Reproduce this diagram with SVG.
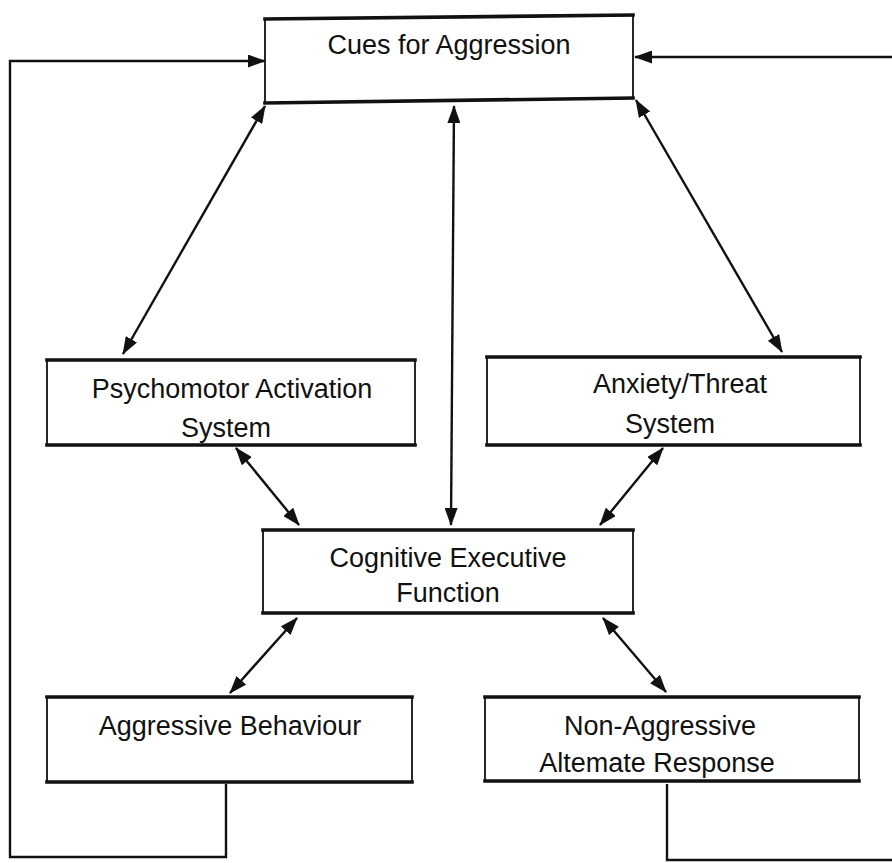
<svg xmlns="http://www.w3.org/2000/svg" width="892" height="863" viewBox="0 0 892 863">
<style>
.bg{fill:#fff}
.side{fill:#fff;stroke:#111;stroke-width:1.8}
.edge{fill:none;stroke:#111;stroke-width:3.6;stroke-linecap:square}
.lbl{font-family:"Liberation Sans",Arial,sans-serif;font-size:27px;fill:#111;text-anchor:middle}
.con{fill:none;stroke:#111;stroke-width:2.4}
</style>
<defs>
<marker id="ah" viewBox="0 0 18 13" refX="17" refY="6.5" markerWidth="18" markerHeight="13" markerUnits="userSpaceOnUse" orient="auto-start-reverse">
<path d="M0,0 L18,6.5 L0,13 z" fill="#111"/>
</marker>
</defs>
<rect class="bg" x="0" y="0" width="892" height="863"/>
<g id="connectors">
<line class="con" x1="265" y1="106" x2="123" y2="354" marker-start="url(#ah)" marker-end="url(#ah)"/>
<line class="con" x1="454" y1="106" x2="451" y2="525" marker-start="url(#ah)" marker-end="url(#ah)"/>
<line class="con" x1="636" y1="100" x2="782" y2="352" marker-start="url(#ah)" marker-end="url(#ah)"/>
<line class="con" x1="236" y1="448" x2="299" y2="525" marker-start="url(#ah)" marker-end="url(#ah)"/>
<line class="con" x1="663" y1="448" x2="600" y2="525" marker-start="url(#ah)" marker-end="url(#ah)"/>
<line class="con" x1="297" y1="618" x2="230" y2="693" marker-start="url(#ah)" marker-end="url(#ah)"/>
<line class="con" x1="603" y1="618" x2="666" y2="692" marker-start="url(#ah)" marker-end="url(#ah)"/>
<path class="con" d="M226,784 V857 H10 V61 H265" marker-end="url(#ah)"/>
<path class="con" d="M667,784 V860 H900 V57 H635" marker-end="url(#ah)"/>
</g>
<g id="cues">
<path class="side" d="M265,19 L633,15 L633,98 L265,103 Z"/>
<path class="edge" d="M265,19 L633,15 M265,103 L633,98"/>
<text class="lbl" x="449" y="54">Cues for Aggression</text>
</g>
<g id="psychomotor">
<rect class="side" x="47" y="360" width="368" height="85"/>
<path class="edge" d="M47,360 H415 M47,445 H415"/>
<text class="lbl" x="232" y="398">Psychomotor  Activation</text>
<text class="lbl" x="226" y="437">System</text>
</g>
<g id="anxiety">
<rect class="side" x="487" y="357" width="373" height="88"/>
<path class="edge" d="M487,357 H860 M487,445 H860"/>
<text class="lbl" x="680" y="393">Anxiety/Threat</text>
<text class="lbl" x="670" y="433">System</text>
</g>
<g id="cognitive">
<rect class="side" x="263" y="530" width="370" height="83"/>
<path class="edge" d="M263,530 H633 M263,613 H633"/>
<text class="lbl" x="448" y="567">Cognitive Executive</text>
<text class="lbl" x="448" y="602">Function</text>
</g>
<g id="aggressive">
<rect class="side" x="47" y="697" width="365" height="85"/>
<path class="edge" d="M47,697 H412 M47,782 H412"/>
<text class="lbl" x="230" y="735">Aggressive Behaviour</text>
</g>
<g id="nonaggressive">
<rect class="side" x="485" y="697" width="374" height="84"/>
<path class="edge" d="M485,697 H859 M485,781 H859"/>
<text class="lbl" x="660" y="735">Non-Aggressive</text>
<text class="lbl" x="657" y="772">Altemate Response</text>
</g>
</svg>
